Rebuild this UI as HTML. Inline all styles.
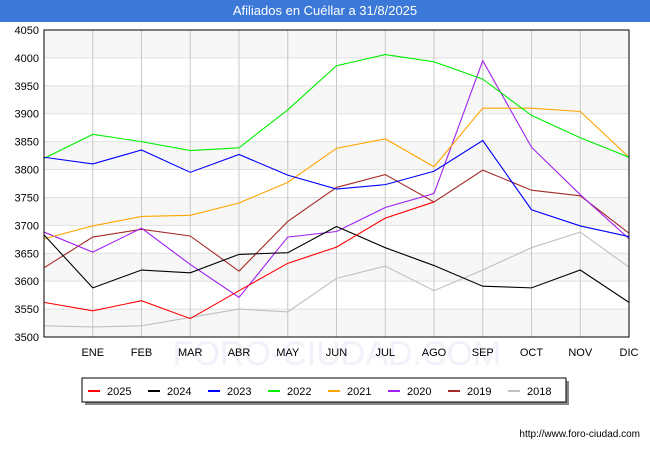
<!DOCTYPE html>
<html><head><meta charset="utf-8"><style>
body{margin:0;width:650px;height:450px;background:#fff;font-family:"Liberation Sans",sans-serif;overflow:hidden}
#title{position:absolute;left:0;top:0;width:650px;height:22px;background:#3b78d8;color:#fff;font-size:13px;text-align:center;line-height:22px}
</style></head><body>
<div id="title">Afiliados en Cuéllar a 31/8/2025</div>
<svg id="chart" width="650" height="450" style="position:absolute;left:0;top:0"></svg>
<script>
const months=["","ENE","FEB","MAR","ABR","MAY","JUN","JUL","AGO","SEP","OCT","NOV","DIC"];
const yTicks=[3500,3550,3600,3650,3700,3750,3800,3850,3900,3950,4000,4050];
const seriesNames=["2025","2024","2023","2022","2021","2020","2019","2018"];
const seriesColors=["#ff0000","#000000","#0000ff","#00ee00","#ffa500","#a020f0","#a52a2a","#c0c0c0"];
const s2025=[3562,3547,3565,3533,3583,3632,3661,3713,3742];
const s2024=[3683,3588,3620,3615,3648,3651,3698,3660,3628,3591,3588,3620,3562];
const s2023=[3822,3810,3835,3795,3827,3790,3765,3773,3797,3852,3728,3699,3680];
const s2022=[3820,3863,3850,3834,3839,3907,3986,4006,3993,3962,3897,3857,3822];
const s2021=[3676,3699,3716,3718,3740,3777,3838,3855,3805,3910,3910,3904,3822];
const s2020=[3688,3652,3695,3630,3571,3679,3689,3732,3757,3995,3840,3755,3676];
const s2019=[3624,3679,3693,3681,3618,3707,3768,3791,3742,3799,3763,3753,3686];
const s2018=[3520,3518,3520,3535,3550,3545,3605,3627,3583,3620,3660,3688,3625];
const allSeries=[s2025,s2024,s2023,s2022,s2021,s2020,s2019,s2018];
const NS="http://www.w3.org/2000/svg";
const svg=document.getElementById('chart');
const L=44,R=629,T=30,B=337;
const x=i=>L+i*(R-L)/(months.length-1);
const y=v=>B-(v-3500)*(B-T)/550;
function el(t,a,p){const e=document.createElementNS(NS,t);for(const k in a)e.setAttribute(k,a[k]);(p||svg).appendChild(e);return e;}
for(let i=0;i<yTicks.length-1;i++){
  if(i%2==0){const b=el('rect',{x:L,y:y(yTicks[i+1]),width:R-L,height:y(yTicks[i])-y(yTicks[i+1]),fill:'#f7f7f7'});
  
  }
}
const wm=el('text',{x:337,y:365,'text-anchor':'middle','font-size':'34',fill:'#f1f1fa'});
wm.textContent='FORO-CIUDAD.COM';


yTicks.forEach(v=>{
  const g=el('line',{x1:L,x2:R,y1:y(v),y2:y(v),stroke:'#e0e0e0'});
  
  
  const t=el('text',{x:L-5,y:y(v)+4,'text-anchor':'end','font-size':'11','fill':'#000'});
  t.textContent=v;
  
  
});
months.forEach((m,i)=>{
  if(i>0){const g=el('line',{x1:x(i),x2:x(i),y1:T,y2:B,stroke:'#c8c8c8'});
  
  }
  const t=el('text',{x:x(i),y:B+19,'text-anchor':'middle','font-size':'11'});
  t.textContent=m;
  
  
});
for(let k=allSeries.length-1;k>=0;k--){
  const d=allSeries[k].map((v,i)=>(i?'L':'M')+x(i)+','+y(v)).join('');
  const p=el('path',{d:d,fill:'none',stroke:seriesColors[k],'stroke-width':'1.1'});
  
  
}
const fr=el('rect',{x:L,y:T,width:R-L,height:B-T,fill:'none',stroke:'#000'});


const lg=el('g',{});


el('rect',{x:85,y:381,width:484,height:24,fill:'#888'},lg);
el('rect',{x:82,y:378,width:484,height:24,fill:'#fff',stroke:'#000'},lg);
seriesNames.forEach((n,k)=>{
  const lx=88+k*60;
  const ln=el('line',{x1:lx,x2:lx+12,y1:391,y2:391,stroke:seriesColors[k],'stroke-width':'2'},lg);
  
  
  const t=el('text',{x:lx+19,y:395,'font-size':'11'},lg);
  t.textContent=n;
  
  
});
const f=el('text',{x:640,y:437,'text-anchor':'end','font-size':'10'});
f.textContent='http://www.foro-ciudad.com';


</script>
</body></html>
